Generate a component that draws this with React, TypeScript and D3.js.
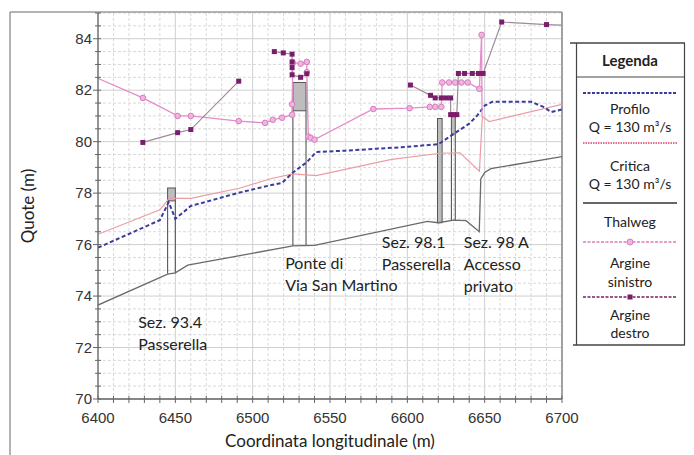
import React from "react";
import * as d3 from "d3";

const W = 694;
const H = 455;

// Axis ticks
const xTickLabels = [6400, 6450, 6500, 6550, 6600, 6650, 6700];
const yTickLabels = [70, 72, 74, 76, 78, 80, 82, 84];

// Longitudinal profile series: [chainage (m), elevation (m)]
const thalweg: [number, number][] = [
  [6400, 73.65], [6445, 74.85], [6450, 74.9], [6458, 75.2], [6526, 75.95], [6540, 75.97],
  [6613, 76.9], [6620, 76.85], [6630, 76.95], [6638, 76.93], [6646.5, 76.5], [6647.5, 78.55],
  [6650, 78.8], [6654, 78.95], [6700, 79.42],
];

const profilo: [number, number][] = [
  [6400, 75.88], [6440, 76.95], [6445.7, 77.65], [6450, 77.0], [6460, 77.5], [6490, 78.0],
  [6511, 78.3], [6519, 78.4], [6526, 78.8], [6535, 79.2], [6541, 79.6], [6560, 79.65],
  [6595, 79.78], [6620, 79.9], [6630, 80.3], [6640, 80.7], [6645, 81.0], [6650, 81.4],
  [6655, 81.55], [6680, 81.55], [6688, 81.35], [6693, 81.15], [6700, 81.25],
];

const critica: [number, number][] = [
  [6400, 76.4], [6440, 77.35], [6446, 77.8], [6460, 77.8], [6492, 78.2], [6511, 78.55],
  [6526, 78.75], [6541, 78.68], [6589, 79.3], [6621, 79.55], [6634, 79.57], [6646.6, 78.85],
  [6648.5, 80.97], [6653, 80.78], [6700, 81.45],
];

// last point closes the bank onto the water surface and carries no marker
const argineSinistro: [number, number][] = [
  [6390, 82.72], [6429, 81.7], [6451.5, 81.0], [6460, 81.0], [6491, 80.8], [6508, 80.73],
  [6513, 80.85], [6519, 80.93], [6525.5, 81.05], [6525.5, 81.45], [6526, 83.07], [6531, 83.03],
  [6535, 83.1], [6535, 82.7], [6536, 80.2], [6537.5, 80.15], [6540, 80.08], [6578, 81.27],
  [6601.5, 81.3], [6614.5, 81.35], [6618, 81.35], [6622, 81.35], [6622.5, 82.3], [6627, 82.3],
  [6631, 82.3], [6635, 82.3], [6639, 82.3], [6646.6, 82.05], [6648, 84.15], [6648.3, 80.97],
];

// null entries break the line where the bank survey is missing
const argineDestro: ([number, number] | null)[] = [
  [6429, 79.97], [6451.5, 80.35], [6460, 80.47], [6491, 82.35], null,
  [6514, 83.5], [6519.8, 83.45], [6525.5, 83.4], [6525.5, 83.1], [6525.5, 82.88], [6525.5, 82.6],
  [6531, 82.5], [6535, 82.64], null,
  [6602, 82.2], [6615, 81.8], [6618, 81.7], [6622, 81.7], [6625, 81.7], [6628, 81.7],
  [6628, 81.05], [6630, 81.05], [6632, 81.05], [6633, 82.65], [6637, 82.65], [6642, 82.65],
  [6646, 82.65], [6649, 82.65], [6661, 84.65], [6690, 84.55], [6710, 84.5],
];

// Crossing structures: chainage span, deck top / deck bottom, bed level
const structures = [
  { x0: 6445, x1: 6450, top: 78.2, deckBottom: 77.7, base: 74.88, full: false },
  { x0: 6526, x1: 6534.5, top: 82.3, deckBottom: 81.2, base: 75.96, full: false },
  { x0: 6619.5, x1: 6622.5, top: 80.9, deckBottom: 76.85, base: 76.85, full: true },
  { x0: 6628.5, x1: 6631, top: 81.1, deckBottom: 80.3, base: 76.93, full: false },
];

// Structure annotations anchored at [chainage, elevation] of the first baseline
const annotations: { x: number; y: number; lines: string[] }[] = [
  { x: 6426, y: 72.76, lines: ["Sez. 93.4", "Passerella"] },
  { x: 6521, y: 75.05, lines: ["Ponte di", "Via San Martino"] },
  { x: 6583.5, y: 75.85, lines: ["Sez. 98.1", "Passerella"] },
  { x: 6636.5, y: 75.85, lines: ["Sez. 98 A", "Accesso", "privato"] },
];

const legendTitle = "Legenda";

const FONT = "Lato, 'Open Sans', sans-serif";
const TICK_FONT = "'Liberation Sans', Arial, sans-serif";

// legend box geometry
const LX0 = 576;
const LX1 = 684;
const LC = (LX0 + LX1) / 2;

export default function App() {
  const x = d3.scaleLinear().domain([6400, 6700]).range([98, 562]);
  const y = d3.scaleLinear().domain([70, 85]).range([399, 13]);

  const line = d3
    .line<[number, number] | null>()
    .defined((d) => d !== null)
    .x((d) => x((d as [number, number])[0]))
    .y((d) => y((d as [number, number])[1]));

  const xMinor = d3.range(6400, 6700.1, 10);
  const yMinor = d3.range(70, 85.01, 0.5);

  const [x0, x1] = x.range();
  const [yBottom, yTop] = y.range();

  return (
    <svg
      width={W}
      height={H}
      viewBox={`0 0 ${W} ${H}`}
      style={{ position: "absolute", left: 0, top: 0, background: "#fff" }}
    >
      <defs>
        <clipPath id="plot-clip">
          <rect x={x0} y={yTop} width={x1 - x0} height={yBottom - yTop} />
        </clipPath>
      </defs>
      <rect x={0} y={0} width={W} height={H} fill="#fff" />

      {/* grid */}
      <g>
        {xMinor.map((v) => {
          const major = Math.round(v) % 50 === 0;
          return (
            <line
              key={"gx" + v}
              x1={x(v)}
              x2={x(v)}
              y1={yTop}
              y2={yBottom}
              stroke={major ? "#cfcfcf" : "#d9d9d9"}
              strokeWidth={1}
              strokeDasharray={major ? undefined : "3,2"}
            />
          );
        })}
        {yMinor.map((v) => {
          const major = Math.abs(v % 2) < 1e-6;
          return (
            <line
              key={"gy" + v}
              x1={x0}
              x2={x1}
              y1={y(v)}
              y2={y(v)}
              stroke={major ? "#cfcfcf" : "#d9d9d9"}
              strokeWidth={1}
              strokeDasharray={major ? undefined : "3,2"}
            />
          );
        })}
      </g>

      {/* outer frame and plot border */}
      <line x1={10} x2={10} y1={12} y2={H} stroke="#9a9a9a" strokeWidth={1.5} />
      <line x1={10} x2={x1} y1={12} y2={12} stroke="#9a9a9a" strokeWidth={1.5} />
      <line x1={x1} x2={x1} y1={12} y2={yBottom} stroke="#8a8a8a" strokeWidth={1.5} />

      <g clipPath="url(#plot-clip)">
        {/* structures */}
        {structures.map((s, i) => (
          <g key={"s" + i}>
            <rect
              x={x(s.x0)}
              y={y(s.top)}
              width={x(s.x1) - x(s.x0)}
              height={y(s.deckBottom) - y(s.top)}
              fill="#bdbdbd"
              stroke="#555"
              strokeWidth={1}
            />
            {!s.full && (
              <>
                <line x1={x(s.x0)} x2={x(s.x0)} y1={y(s.deckBottom)} y2={y(s.base)} stroke="#555" strokeWidth={1.1} />
                <line x1={x(s.x1)} x2={x(s.x1)} y1={y(s.deckBottom)} y2={y(s.base)} stroke="#555" strokeWidth={1.1} />
              </>
            )}
          </g>
        ))}

        {/* thalweg */}
        <path d={line(thalweg) || ""} fill="none" stroke="#6a6a6a" strokeWidth={1.3} />
        {/* critical depth */}
        <path d={line(critica) || ""} fill="none" stroke="#eb9ca6" strokeWidth={1.2} />
        {/* water surface profile */}
        <path d={line(profilo) || ""} fill="none" stroke="#3b3b9e" strokeWidth={2} strokeDasharray="4,2.5" />

        {/* left bank */}
        <path d={line(argineSinistro) || ""} fill="none" stroke="#e58cc9" strokeWidth={1.3} />
        {argineSinistro.slice(0, -1).map((d, i) => (
          <circle key={"ls" + i} cx={x(d[0])} cy={y(d[1])} r={2.8} fill="#f0b4e0" stroke="#d77cbf" strokeWidth={1} />
        ))}

        {/* right bank */}
        <path d={line(argineDestro) || ""} fill="none" stroke="#9c8b99" strokeWidth={1.2} />
        {argineDestro.map((d, i) =>
          d ? <rect key={"rd" + i} x={x(d[0]) - 2.5} y={y(d[1]) - 2.5} width={5} height={5} fill="#7a1d6c" /> : null
        )}
      </g>

      {/* y axis */}
      <g>
        <line x1={x0} x2={x0} y1={yTop} y2={yBottom} stroke="#666" strokeWidth={1.3} />
        {yMinor.map((v) => {
          const major = Math.abs(v % 2) < 1e-6;
          return (
            <line key={"ty" + v} x1={x0 - (major ? 5 : 3)} x2={x0 + 3} y1={y(v)} y2={y(v)} stroke="#666" strokeWidth={1} />
          );
        })}
        {yTickLabels.map((v) => (
          <text key={"ly" + v} x={x0 - 6} y={y(v)} dy="0.35em" textAnchor="end" fontFamily={TICK_FONT} fontSize={15} fill="#333">
            {v}
          </text>
        ))}
      </g>

      {/* x axis */}
      <g>
        <line x1={x0} x2={x1} y1={yBottom} y2={yBottom} stroke="#666" strokeWidth={1.3} />
        {xMinor.map((v) => (
          <line key={"tx" + v} x1={x(v)} x2={x(v)} y1={yBottom - 3} y2={yBottom + 4} stroke="#666" strokeWidth={1} />
        ))}
        {xTickLabels.map((v) => (
          <text key={"lx" + v} x={x(v)} y={yBottom + 24} textAnchor="middle" fontFamily={TICK_FONT} fontSize={15} fill="#333">
            {v}
          </text>
        ))}
      </g>

      {/* axis titles */}
      <text x={(x0 + x1) / 2} y={447} textAnchor="middle" fontFamily={FONT} fontSize={17} fill="#222">
        Coordinata longitudinale (m)
      </text>
      <text
        transform={`translate(34, ${(yTop + yBottom) / 2}) rotate(-90)`}
        textAnchor="middle"
        fontFamily={FONT}
        fontSize={17}
        fill="#222"
      >
        Quote (m)
      </text>

      {/* structure annotations */}
      {annotations.map((a, i) => (
        <text key={"a" + i} x={x(a.x)} y={y(a.y)} fontFamily={FONT} fontSize={16} fill="#222">
          {a.lines.map((l, j) => (
            <tspan key={j} x={x(a.x)} dy={j === 0 ? 0 : 22}>
              {l}
            </tspan>
          ))}
        </text>
      ))}

      {/* legend */}
      <g fontFamily={FONT} fill="#222">
        <line x1={LX0 - 6} x2={LX1 + 1} y1={43} y2={43} stroke="#444" strokeWidth={1.5} />
        <line x1={LX0 + 0.5} x2={LX0 + 0.5} y1={43} y2={345} stroke="#444" strokeWidth={1.2} />
        <line x1={LX1 + 0.5} x2={LX1 + 0.5} y1={43} y2={345} stroke="#444" strokeWidth={1.2} />
        <line x1={LX0 - 3} x2={LX1 + 1} y1={345} y2={345} stroke="#444" strokeWidth={1.5} />
        <line x1={LX0} x2={LX1} y1={77} y2={77} stroke="#444" strokeWidth={1} />
        <text x={LC} y={66} textAnchor="middle" fontSize={15} fontWeight="bold">{legendTitle}</text>

        <line x1={LX0 + 7} x2={LX1 - 7} y1={93} y2={93} stroke="#3b3b9e" strokeWidth={2} strokeDasharray="3,1.5" />
        <text x={LC} y={114} textAnchor="middle" fontSize={14}>Profilo</text>
        <text x={LC} y={132} textAnchor="middle" fontSize={14}>Q = 130 m³/s</text>

        <line x1={LX0 + 7} x2={LX1 - 7} y1={143} y2={143} stroke="#d8406a" strokeWidth={1.5} strokeDasharray="1.5,1" />
        <text x={LC} y={171} textAnchor="middle" fontSize={14}>Critica</text>
        <text x={LC} y={189} textAnchor="middle" fontSize={14}>Q = 130 m³/s</text>

        <line x1={LX0 + 7} x2={LX1 - 7} y1={203} y2={203} stroke="#333" strokeWidth={1.5} />
        <text x={LC} y={227} textAnchor="middle" fontSize={14}>Thalweg</text>

        <line x1={LX0 + 7} x2={LX1 - 7} y1={242} y2={242} stroke="#e07cc2" strokeWidth={1.5} strokeDasharray="3,1.5" />
        <circle cx={LC} cy={242} r={3} fill="#f0b4e0" stroke="#d77cbf" strokeWidth={1} />
        <text x={LC} y={268} textAnchor="middle" fontSize={14}>Argine</text>
        <text x={LC} y={287} textAnchor="middle" fontSize={14}>sinistro</text>

        <line x1={LX0 + 7} x2={LX1 - 7} y1={297} y2={297} stroke="#7a1d6c" strokeWidth={1.5} strokeDasharray="3,1.5" />
        <rect x={LC - 2.5} y={294.5} width={5} height={5} fill="#7a1d6c" />
        <text x={LC} y={320} textAnchor="middle" fontSize={14}>Argine</text>
        <text x={LC} y={338} textAnchor="middle" fontSize={14}>destro</text>
      </g>
    </svg>
  );
}
